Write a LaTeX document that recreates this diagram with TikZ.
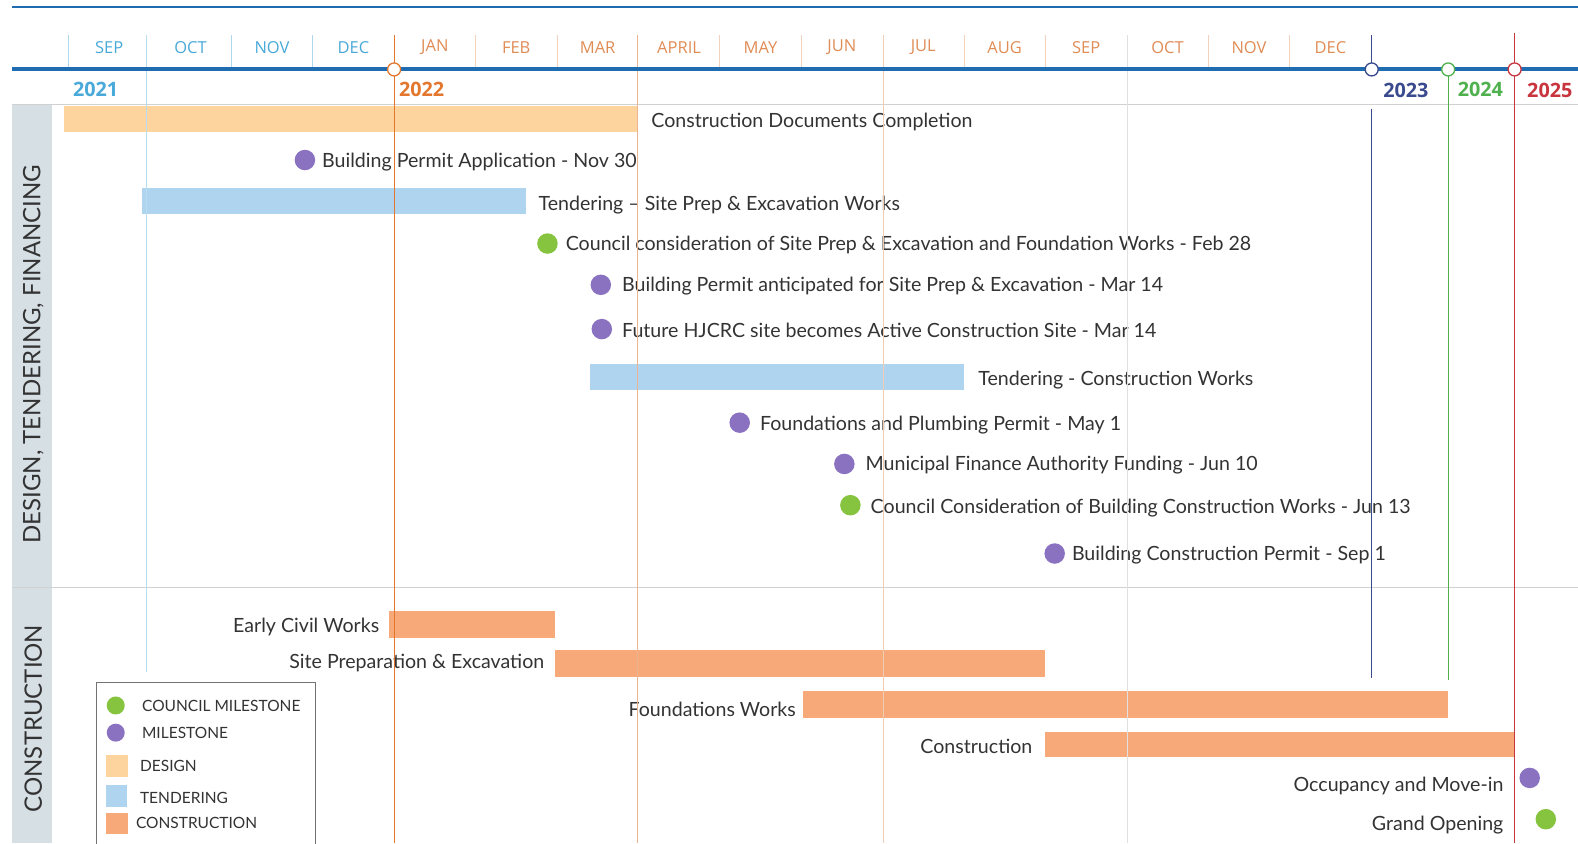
\documentclass[tikz,border=0pt]{standalone}
\usepackage{fontspec}
\setmainfont{Lato}
\newfontfamily\hdfont{Open Sans}
\definecolor{axisblue}{HTML}{1F6CB0}
\definecolor{yrblue}{HTML}{49A9D9}
\definecolor{yrorange}{HTML}{E3772E}
\definecolor{moorange}{HTML}{E08C55}
\definecolor{yrnavy}{HTML}{3A4A8E}
\definecolor{yrgreen}{HTML}{4FB14E}
\definecolor{yrred}{HTML}{C8353F}
\definecolor{designc}{HTML}{FDD49D}
\definecolor{tenderc}{HTML}{AFD4EF}
\definecolor{constc}{HTML}{F8A97A}
\definecolor{msviolet}{HTML}{8A72C1}
\definecolor{msgreen}{HTML}{86C440}
\definecolor{bandgray}{HTML}{D6DFE4}
\definecolor{labelgray}{HTML}{333333}
\begin{document}
\begin{tikzpicture}[x=1.0064pt,y=-1.0064pt,line cap=butt,
  lbl/.style={inner sep=0pt,text=labelgray,yshift=-1.5pt,font=\fontsize{19.6}{22}\selectfont},
  legtext/.style={inner sep=0pt,anchor=west,text=labelgray,font=\fontsize{15.5}{17}\selectfont},
  monthlbl/.style={inner sep=0pt,font=\hdfont\fontsize{16.5}{18}\selectfont},
  yearlbl/.style={inner sep=0pt,font=\hdfont\bfseries\fontsize{19.8}{22}\selectfont},
  seclbl/.style={inner sep=0pt,rotate=90,text=labelgray,font=\fontsize{24}{26}\selectfont},
  ms/.style={circle,inner sep=0pt,minimum size=20.5pt,fill=msviolet},
  cms/.style={circle,inner sep=0pt,minimum size=20.5pt,fill=msgreen},
  yearmark/.style={circle,inner sep=0pt,minimum size=13pt,fill=white,line width=1.3pt}]
\useasboundingbox (0,0) rectangle (1568,838);
\fill[white] (0,0) rectangle (1568,838);
\draw[axisblue,line width=1.6pt] (12,7) -- (1568,7);
\fill[bandgray] (12,104) rectangle (52,838);
\draw[black!18,line width=1pt] (12,104) -- (1568,104);
\draw[black!18,line width=1pt] (12,584) -- (1568,584);
\node[seclbl] (design) at (33,352) {DESIGN, TENDERING, FINANCING};
\node[seclbl] (constr) at (33,714) {CONSTRUCTION};
\foreach \m [count=\i from 0] in {SEP,OCT,NOV,DEC}
  \node[monthlbl,text=yrblue] (m\i) at ({68+80.9*(\i+0.5)},47) {\m};
\foreach \m [count=\i from 4] in {JAN,FEB,MAR,APRIL,MAY,JUN,JUL,AUG,SEP,OCT,NOV,DEC}
  \node[monthlbl,text=moorange] (m\i) at ({68+80.9*(\i+0.5)},47) {\m};
\foreach \i in {0,2,3}
  \draw[yrblue!45,line width=0.8pt] ({68+80.9*\i},35) -- ++(0,33);
\foreach \i in {5,6,8,9,11,12,14,15}
  \draw[moorange!40,line width=0.8pt] ({68+80.9*\i},35) -- ++(0,33);
\fill[designc] (64,105) rectangle (633,131);
\fill[tenderc] (141,187) rectangle (523,213);
\fill[tenderc] (586,362) rectangle (958,388);
\fill[constc] (387,607) rectangle (551,634);
\fill[constc] (551,646) rectangle (1038,673);
\fill[constc] (798,687) rectangle (1439,713);
\fill[constc] (1038,727) rectangle (1505,752);
\node[lbl,anchor=west] (cdc) at (647,120) {Construction Documents Completion};
\node[ms] (bpa) at (303,159) {};
\node[lbl,anchor=west] (bpat) at (320,160) {Building Permit Application - Nov 30};
\node[lbl,anchor=west] (tsp) at (535,202) {Tendering – Site Prep \& Excavation Works};
\node[cms] (ccs) at (544,242) {};
\node[lbl,anchor=west] (ccst) at (562,242) {Council consideration of Site Prep \& Excavation and Foundation Works - Feb 28};
\node[ms] (bps) at (597,283) {};
\node[lbl,anchor=west] (bpst) at (618,283) {Building Permit anticipated for Site Prep \& Excavation - Mar 14};
\node[ms] (fhs) at (598,327) {};
\node[lbl,anchor=west] (fhst) at (618,327) {Future HJCRC site becomes Active Construction Site - Mar 14};
\node[lbl,anchor=west] (tcw) at (972,376) {Tendering - Construction Works};
\node[ms] (fpp) at (735,420) {};
\node[lbl,anchor=west] (fppt) at (755,421) {Foundations and Plumbing Permit - May 1};
\node[ms] (mfa) at (839,461) {};
\node[lbl,anchor=west] (mfat) at (860,461) {Municipal Finance Authority Funding - Jun 10};
\node[cms] (ccb) at (845,502) {};
\node[lbl,anchor=west] (ccbt) at (865,503) {Council Consideration of Building Construction Works - Jun 13};
\node[ms] (bcp) at (1048,550) {};
\node[lbl,anchor=west] (bcpt) at (1065,550) {Building Construction Permit - Sep 1};
\node[lbl,anchor=east] (ecw) at (377,621) {Early Civil Works};
\node[lbl,anchor=east] (spe) at (541,657) {Site Preparation \& Excavation};
\node[lbl,anchor=east] (fw) at (791,703) {Foundations Works};
\node[lbl,anchor=east] (cw) at (1026,740) {Construction};
\node[ms] (omi) at (1520,773) {};
\node[lbl,anchor=east] (omit) at (1494,779) {Occupancy and Move-in};
\node[cms] (go) at (1536,814) {};
\node[lbl,anchor=east] (got) at (1494,818) {Grand Opening};
\draw[yrblue!40,line width=0.9pt] (146,35) -- (146,668);
\draw[yrorange,line width=1.2pt] (391.6,35) -- (391.6,838);
\draw[moorange!65,line width=1pt] (633.6,35) -- (633.6,838);
\draw[moorange!45,line width=0.9pt] (877.5,35) -- (877.5,838);
\draw[black!12,line width=0.9pt] (1120,35) -- (1120,838);
\draw[yrnavy,line width=1.3pt] (1363,35) -- (1363,70);
\draw[yrnavy,line width=1.3pt] (1363,108) -- (1363,674);
\draw[yrgreen,line width=1.3pt] (1439,70) -- (1439,676);
\draw[yrred,line width=1.3pt] (1505,33) -- (1505,838);
\draw[axisblue,line width=4pt] (12,69) -- (1568,69);
\node[yearmark,draw=yrorange] (y22) at (391.6,69) {};
\node[yearmark,draw=yrnavy] (y23) at (1363,69) {};
\node[yearmark,draw=yrgreen] (y24) at (1439,69) {};
\node[yearmark,draw=yrred] (y25) at (1505,69) {};
\node[yearlbl,text=yrblue] (t21) at (95,89) {2021};
\node[yearlbl,text=yrorange] (t22) at (419,89) {2022};
\node[yearlbl,text=yrnavy] (t23) at (1397,90) {2023};
\node[yearlbl,text=yrgreen] (t24) at (1471,89) {2024};
\node[yearlbl,text=yrred] (t25) at (1540,90) {2025};
\draw[black!55,line width=0.8pt,fill=white] (96,845) -- (96,678) -- (313,678) -- (313,845);
\node[cms,minimum size=18pt] (lgc) at (115,701) {};
\node[legtext] (lgct) at (141,701) {COUNCIL MILESTONE};
\node[ms,minimum size=18pt] (lgm) at (115,728) {};
\node[legtext] (lgmt) at (141,728) {MILESTONE};
\fill[designc] (105,750) rectangle (127,772);
\node[legtext] (lgd) at (139,761) {DESIGN};
\fill[tenderc] (105,780) rectangle (126,802);
\node[legtext] (lgt) at (139,793) {TENDERING};
\fill[constc] (105,808) rectangle (127,829);
\node[legtext] (lgk) at (135,818) {CONSTRUCTION};
\end{tikzpicture}
\end{document}
